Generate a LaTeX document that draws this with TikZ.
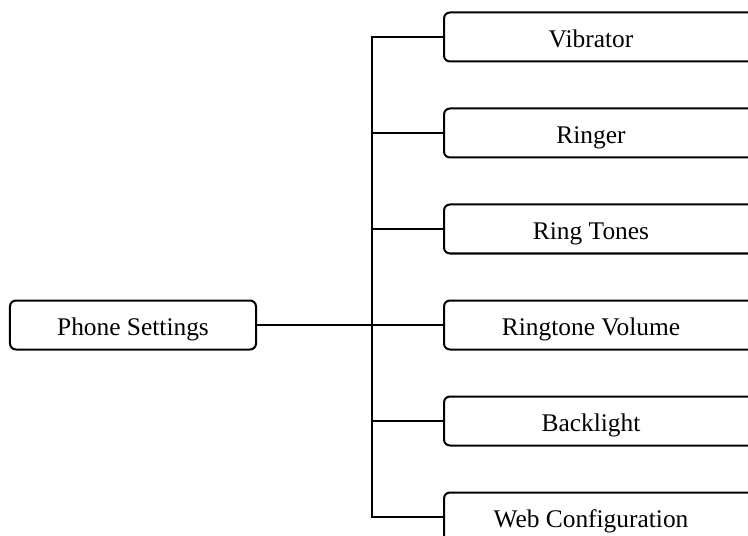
\documentclass[tikz,border=0pt]{standalone}
\usepackage{fontspec}
\setmainfont{Liberation Serif}
\usetikzlibrary{positioning, calc}

\begin{document}
\begin{tikzpicture}[x=1bp, y=-1bp,
  box/.style={draw, line width=2bp, rounded corners=6bp, minimum height=49bp, inner sep=0pt},
  label text/.style={font=\fontsize{25.5}{30}\selectfont, text height=21bp, text depth=0bp},
  link/.style={line width=2bp}]
  \clip (0,0) rectangle (748,536);
  % root of the menu
  \node[box, label text, minimum width=246bp] (root) at (133,325) {Phone Settings};
  \coordinate (trunk) at (372,325);
  % sub menus
  \foreach \name/\txt [count=\i from 0] in {vib/Vibrator, ring/Ringer, tones/Ring Tones, vol/Ringtone Volume, light/Backlight, web/Web Configuration} {
    \node[box, anchor=west, minimum width=330bp] (\name) at (443, 37+96*\i) {};
    \node[label text] (\name-txt) at (591, 37+96*\i) {\txt};
    \draw[link] (\name.west) -| (trunk);
  }
  \draw[link] (root.east) -- (vol.west);
\end{tikzpicture}
\end{document}
